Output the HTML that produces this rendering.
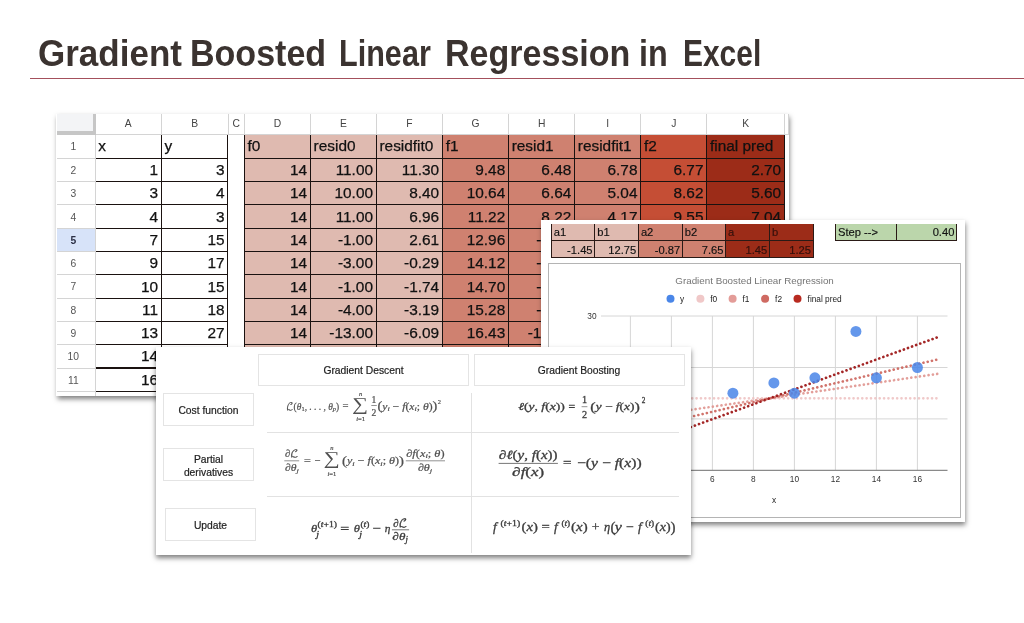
<!DOCTYPE html>
<html lang="en"><head><meta charset="utf-8"><title>Gradient Boosted Linear Regression in Excel</title>
<style>
html,body{margin:0;padding:0;background:#fff;}
body{width:1024px;height:623px;position:relative;overflow:hidden;font-family:"Liberation Sans",sans-serif;}
.abs{position:absolute;}
#title{position:absolute;left:0;top:32.4px;font-weight:bold;font-size:36.5px;line-height:44px;color:#3b3330;white-space:nowrap;width:1024px;height:44px;}
#title span{position:absolute;top:0;display:block;transform-origin:0 50%;}
#tline{position:absolute;left:30px;top:77.6px;width:994px;height:1.3px;background:#a4505c;}
#sheet{position:absolute;left:56.4px;top:113.7px;width:732.8px;height:282.1px;background:#fff;overflow:hidden;box-shadow:0.5px 3px 5px rgba(0,0,0,.5);}
#sheetin{position:absolute;left:-56.4px;top:-113.7px;width:1024px;height:623px;}
.c{position:absolute;box-sizing:border-box;font-size:15.4px;color:#111;white-space:nowrap;overflow:hidden;-webkit-text-stroke:0.25px #111;}
.c span{position:absolute;bottom:3.2px;}
.c .l{left:2.6px;bottom:3.5px;}
.c .r{right:3.9px;}
.ch{position:absolute;box-sizing:border-box;border-right:1px solid #d4d4d4;border-bottom:1px solid #d4d4d4;background:#fff;font-size:10.3px;color:#444;text-align:center;}
.rh{position:absolute;box-sizing:border-box;padding-right:4.5px;border-right:1px solid #d4d4d4;border-bottom:1px solid #d4d4d4;background:#fff;font-size:10.3px;color:#555;text-align:center;}
#chart{position:absolute;left:541px;top:220.2px;width:424.3px;height:302.1px;background:#fff;box-shadow:0.5px 3px 5px rgba(0,0,0,.5);overflow:hidden;}
#chartin{position:absolute;left:-541px;top:-220.2px;width:1024px;height:623px;}
.s{position:absolute;box-sizing:border-box;border-right:1px solid #2a1a16;border-bottom:1px solid #2a1a16;font-size:11.2px;color:#111;white-space:nowrap;overflow:hidden;-webkit-text-stroke:0.15px #111;}
.s span{position:absolute;bottom:1.2px;}
.s .l{left:2.0px;}
.s .r{right:1.6px;}
#panel{position:absolute;left:155.5px;top:347.4px;width:535.5px;height:207.3px;background:#fff;box-shadow:0px 3px 5px rgba(0,0,0,.5);overflow:hidden;}
#panelin{position:absolute;left:-155.5px;top:-347.4px;width:1024px;height:623px;}
.bx{position:absolute;box-sizing:border-box;border:1px solid #e4e4e4;background:#fff;font-size:10.3px;color:#222;-webkit-text-stroke:0.2px #222;display:flex;align-items:center;justify-content:center;text-align:center;line-height:13.2px;padding-top:2.6px;}
.hl{position:absolute;height:1px;background:#e2e2e2;}
.vl{position:absolute;width:1px;background:#e2e2e2;}
svg text{white-space:pre;}
</style></head><body>
<div id="title"><span style="left:37.52px;transform:scaleX(0.9591);">Gradient</span> <span style="left:189.84px;transform:scaleX(0.9323);">Boosted</span> <span style="left:339.46px;transform:scaleX(0.8381);">Linear</span> <span style="left:444.84px;transform:scaleX(0.9325);">Regression</span> <span style="left:638.92px;transform:scaleX(0.8861);">in</span> <span style="left:682.70px;transform:scaleX(0.8201);">Excel</span></div>
<div id="tline"></div>

<div id="sheet"><div id="sheetin">
<div class="abs" style="left:56.5px;top:113.8px;width:39.1px;height:21.1px;background:#f3f4f6;box-sizing:border-box;border-right:3.7px solid #c6c6c6;border-bottom:4px solid #c6c6c6;"></div>
<div class="ch" style="left:95.6px;top:113.8px;width:66.4px;height:21.1px;line-height:19.6px;">A</div>
<div class="ch" style="left:162.0px;top:113.8px;width:66.5px;height:21.1px;line-height:19.6px;">B</div>
<div class="ch" style="left:228.5px;top:113.8px;width:16.5px;height:21.1px;line-height:19.6px;">C</div>
<div class="ch" style="left:245.0px;top:113.8px;width:66.0px;height:21.1px;line-height:19.6px;">D</div>
<div class="ch" style="left:311.0px;top:113.8px;width:65.9px;height:21.1px;line-height:19.6px;">E</div>
<div class="ch" style="left:376.9px;top:113.8px;width:66.2px;height:21.1px;line-height:19.6px;">F</div>
<div class="ch" style="left:443.1px;top:113.8px;width:66.0px;height:21.1px;line-height:19.6px;">G</div>
<div class="ch" style="left:509.1px;top:113.8px;width:66.1px;height:21.1px;line-height:19.6px;">H</div>
<div class="ch" style="left:575.2px;top:113.8px;width:66.2px;height:21.1px;line-height:19.6px;">I</div>
<div class="ch" style="left:641.4px;top:113.8px;width:66.0px;height:21.1px;line-height:19.6px;">J</div>
<div class="ch" style="left:707.4px;top:113.8px;width:77.6px;height:21.1px;line-height:19.6px;">K</div>
<div class="ch" style="left:785.0px;top:113.8px;width:4.2px;height:21.1px;"></div>
<div class="rh" style="left:56.5px;top:134.90px;width:39.1px;height:24.00px;line-height:24.5px;">1</div>
<div class="rh" style="left:56.5px;top:158.90px;width:39.1px;height:23.30px;line-height:23.8px;">2</div>
<div class="rh" style="left:56.5px;top:182.20px;width:39.1px;height:23.30px;line-height:23.8px;">3</div>
<div class="rh" style="left:56.5px;top:205.50px;width:39.1px;height:23.30px;line-height:23.8px;">4</div>
<div class="rh" style="left:56.5px;top:228.80px;width:39.1px;height:23.30px;line-height:23.8px;background:#d7e3f9;font-weight:bold;color:#2b3046;">5</div>
<div class="rh" style="left:56.5px;top:252.10px;width:39.1px;height:23.30px;line-height:23.8px;">6</div>
<div class="rh" style="left:56.5px;top:275.40px;width:39.1px;height:23.30px;line-height:23.8px;">7</div>
<div class="rh" style="left:56.5px;top:298.70px;width:39.1px;height:23.30px;line-height:23.8px;">8</div>
<div class="rh" style="left:56.5px;top:322.00px;width:39.1px;height:23.30px;line-height:23.8px;">9</div>
<div class="rh" style="left:56.5px;top:345.30px;width:39.1px;height:23.30px;line-height:23.8px;">10</div>
<div class="rh" style="left:56.5px;top:368.60px;width:39.1px;height:23.30px;line-height:23.8px;">11</div>
<div class="rh" style="left:56.5px;top:391.90px;width:39.1px;height:23.30px;line-height:23.8px;">12</div>
<div class="abs" style="left:244.5px;top:134.9px;width:66.5px;height:257.0px;background:#dfbab0;"></div>
<div class="abs" style="left:310.5px;top:134.9px;width:66.4px;height:257.0px;background:#dfbab0;"></div>
<div class="abs" style="left:376.4px;top:134.9px;width:66.7px;height:257.0px;background:#dfbab0;"></div>
<div class="abs" style="left:442.6px;top:134.9px;width:66.5px;height:257.0px;background:#cf8170;"></div>
<div class="abs" style="left:508.6px;top:134.9px;width:66.6px;height:257.0px;background:#cf8170;"></div>
<div class="abs" style="left:574.7px;top:134.9px;width:66.7px;height:257.0px;background:#cf8170;"></div>
<div class="abs" style="left:640.9px;top:134.9px;width:66.5px;height:257.0px;background:#c54e35;"></div>
<div class="abs" style="left:706.9px;top:134.9px;width:78.1px;height:257.0px;background:#9c2c18;"></div>
<div class="c" style="left:95.6px;top:134.90px;width:66.4px;height:24.00px;"><span class="l">x</span></div>
<div class="c" style="left:162.0px;top:134.90px;width:66.5px;height:24.00px;"><span class="l">y</span></div>
<div class="c" style="left:245.0px;top:134.90px;width:66.0px;height:24.00px;"><span class="l">f0</span></div>
<div class="c" style="left:311.0px;top:134.90px;width:65.9px;height:24.00px;"><span class="l">resid0</span></div>
<div class="c" style="left:376.9px;top:134.90px;width:66.2px;height:24.00px;"><span class="l">residfit0</span></div>
<div class="c" style="left:443.1px;top:134.90px;width:66.0px;height:24.00px;"><span class="l">f1</span></div>
<div class="c" style="left:509.1px;top:134.90px;width:66.1px;height:24.00px;"><span class="l">resid1</span></div>
<div class="c" style="left:575.2px;top:134.90px;width:66.2px;height:24.00px;"><span class="l">residfit1</span></div>
<div class="c" style="left:641.4px;top:134.90px;width:66.0px;height:24.00px;"><span class="l">f2</span></div>
<div class="c" style="left:707.4px;top:134.90px;width:77.6px;height:24.00px;"><span class="l">final pred</span></div>
<div class="c" style="left:95.6px;top:158.90px;width:66.4px;height:23.30px;"><span class="r">1</span></div>
<div class="c" style="left:162.0px;top:158.90px;width:66.5px;height:23.30px;"><span class="r">3</span></div>
<div class="c" style="left:245.0px;top:158.90px;width:66.0px;height:23.30px;"><span class="r">14</span></div>
<div class="c" style="left:311.0px;top:158.90px;width:65.9px;height:23.30px;"><span class="r">11.00</span></div>
<div class="c" style="left:376.9px;top:158.90px;width:66.2px;height:23.30px;"><span class="r">11.30</span></div>
<div class="c" style="left:443.1px;top:158.90px;width:66.0px;height:23.30px;"><span class="r">9.48</span></div>
<div class="c" style="left:509.1px;top:158.90px;width:66.1px;height:23.30px;"><span class="r">6.48</span></div>
<div class="c" style="left:575.2px;top:158.90px;width:66.2px;height:23.30px;"><span class="r">6.78</span></div>
<div class="c" style="left:641.4px;top:158.90px;width:66.0px;height:23.30px;"><span class="r">6.77</span></div>
<div class="c" style="left:707.4px;top:158.90px;width:77.6px;height:23.30px;"><span class="r">2.70</span></div>
<div class="c" style="left:95.6px;top:182.20px;width:66.4px;height:23.30px;"><span class="r">3</span></div>
<div class="c" style="left:162.0px;top:182.20px;width:66.5px;height:23.30px;"><span class="r">4</span></div>
<div class="c" style="left:245.0px;top:182.20px;width:66.0px;height:23.30px;"><span class="r">14</span></div>
<div class="c" style="left:311.0px;top:182.20px;width:65.9px;height:23.30px;"><span class="r">10.00</span></div>
<div class="c" style="left:376.9px;top:182.20px;width:66.2px;height:23.30px;"><span class="r">8.40</span></div>
<div class="c" style="left:443.1px;top:182.20px;width:66.0px;height:23.30px;"><span class="r">10.64</span></div>
<div class="c" style="left:509.1px;top:182.20px;width:66.1px;height:23.30px;"><span class="r">6.64</span></div>
<div class="c" style="left:575.2px;top:182.20px;width:66.2px;height:23.30px;"><span class="r">5.04</span></div>
<div class="c" style="left:641.4px;top:182.20px;width:66.0px;height:23.30px;"><span class="r">8.62</span></div>
<div class="c" style="left:707.4px;top:182.20px;width:77.6px;height:23.30px;"><span class="r">5.60</span></div>
<div class="c" style="left:95.6px;top:205.50px;width:66.4px;height:23.30px;"><span class="r">4</span></div>
<div class="c" style="left:162.0px;top:205.50px;width:66.5px;height:23.30px;"><span class="r">3</span></div>
<div class="c" style="left:245.0px;top:205.50px;width:66.0px;height:23.30px;"><span class="r">14</span></div>
<div class="c" style="left:311.0px;top:205.50px;width:65.9px;height:23.30px;"><span class="r">11.00</span></div>
<div class="c" style="left:376.9px;top:205.50px;width:66.2px;height:23.30px;"><span class="r">6.96</span></div>
<div class="c" style="left:443.1px;top:205.50px;width:66.0px;height:23.30px;"><span class="r">11.22</span></div>
<div class="c" style="left:509.1px;top:205.50px;width:66.1px;height:23.30px;"><span class="r">8.22</span></div>
<div class="c" style="left:575.2px;top:205.50px;width:66.2px;height:23.30px;"><span class="r">4.17</span></div>
<div class="c" style="left:641.4px;top:205.50px;width:66.0px;height:23.30px;"><span class="r">9.55</span></div>
<div class="c" style="left:707.4px;top:205.50px;width:77.6px;height:23.30px;"><span class="r">7.04</span></div>
<div class="c" style="left:95.6px;top:228.80px;width:66.4px;height:23.30px;"><span class="r">7</span></div>
<div class="c" style="left:162.0px;top:228.80px;width:66.5px;height:23.30px;"><span class="r">15</span></div>
<div class="c" style="left:245.0px;top:228.80px;width:66.0px;height:23.30px;"><span class="r">14</span></div>
<div class="c" style="left:311.0px;top:228.80px;width:65.9px;height:23.30px;"><span class="r">-1.00</span></div>
<div class="c" style="left:376.9px;top:228.80px;width:66.2px;height:23.30px;"><span class="r">2.61</span></div>
<div class="c" style="left:443.1px;top:228.80px;width:66.0px;height:23.30px;"><span class="r">12.96</span></div>
<div class="c" style="left:509.1px;top:228.80px;width:66.1px;height:23.30px;"><span class="r">-2.04</span></div>
<div class="c" style="left:575.2px;top:228.80px;width:66.2px;height:23.30px;"><span class="r">1.56</span></div>
<div class="c" style="left:641.4px;top:228.80px;width:66.0px;height:23.30px;"><span class="r">12.34</span></div>
<div class="c" style="left:707.4px;top:228.80px;width:77.6px;height:23.30px;"><span class="r">11.40</span></div>
<div class="c" style="left:95.6px;top:252.10px;width:66.4px;height:23.30px;"><span class="r">9</span></div>
<div class="c" style="left:162.0px;top:252.10px;width:66.5px;height:23.30px;"><span class="r">17</span></div>
<div class="c" style="left:245.0px;top:252.10px;width:66.0px;height:23.30px;"><span class="r">14</span></div>
<div class="c" style="left:311.0px;top:252.10px;width:65.9px;height:23.30px;"><span class="r">-3.00</span></div>
<div class="c" style="left:376.9px;top:252.10px;width:66.2px;height:23.30px;"><span class="r">-0.29</span></div>
<div class="c" style="left:443.1px;top:252.10px;width:66.0px;height:23.30px;"><span class="r">14.12</span></div>
<div class="c" style="left:509.1px;top:252.10px;width:66.1px;height:23.30px;"><span class="r">-2.88</span></div>
<div class="c" style="left:575.2px;top:252.10px;width:66.2px;height:23.30px;"><span class="r">-0.18</span></div>
<div class="c" style="left:641.4px;top:252.10px;width:66.0px;height:23.30px;"><span class="r">14.19</span></div>
<div class="c" style="left:707.4px;top:252.10px;width:77.6px;height:23.30px;"><span class="r">14.30</span></div>
<div class="c" style="left:95.6px;top:275.40px;width:66.4px;height:23.30px;"><span class="r">10</span></div>
<div class="c" style="left:162.0px;top:275.40px;width:66.5px;height:23.30px;"><span class="r">15</span></div>
<div class="c" style="left:245.0px;top:275.40px;width:66.0px;height:23.30px;"><span class="r">14</span></div>
<div class="c" style="left:311.0px;top:275.40px;width:65.9px;height:23.30px;"><span class="r">-1.00</span></div>
<div class="c" style="left:376.9px;top:275.40px;width:66.2px;height:23.30px;"><span class="r">-1.74</span></div>
<div class="c" style="left:443.1px;top:275.40px;width:66.0px;height:23.30px;"><span class="r">14.70</span></div>
<div class="c" style="left:509.1px;top:275.40px;width:66.1px;height:23.30px;"><span class="r">-0.30</span></div>
<div class="c" style="left:575.2px;top:275.40px;width:66.2px;height:23.30px;"><span class="r">-1.05</span></div>
<div class="c" style="left:641.4px;top:275.40px;width:66.0px;height:23.30px;"><span class="r">15.12</span></div>
<div class="c" style="left:707.4px;top:275.40px;width:77.6px;height:23.30px;"><span class="r">15.75</span></div>
<div class="c" style="left:95.6px;top:298.70px;width:66.4px;height:23.30px;"><span class="r">11</span></div>
<div class="c" style="left:162.0px;top:298.70px;width:66.5px;height:23.30px;"><span class="r">18</span></div>
<div class="c" style="left:245.0px;top:298.70px;width:66.0px;height:23.30px;"><span class="r">14</span></div>
<div class="c" style="left:311.0px;top:298.70px;width:65.9px;height:23.30px;"><span class="r">-4.00</span></div>
<div class="c" style="left:376.9px;top:298.70px;width:66.2px;height:23.30px;"><span class="r">-3.19</span></div>
<div class="c" style="left:443.1px;top:298.70px;width:66.0px;height:23.30px;"><span class="r">15.28</span></div>
<div class="c" style="left:509.1px;top:298.70px;width:66.1px;height:23.30px;"><span class="r">-2.72</span></div>
<div class="c" style="left:575.2px;top:298.70px;width:66.2px;height:23.30px;"><span class="r">-1.92</span></div>
<div class="c" style="left:641.4px;top:298.70px;width:66.0px;height:23.30px;"><span class="r">16.05</span></div>
<div class="c" style="left:707.4px;top:298.70px;width:77.6px;height:23.30px;"><span class="r">17.20</span></div>
<div class="c" style="left:95.6px;top:322.00px;width:66.4px;height:23.30px;"><span class="r">13</span></div>
<div class="c" style="left:162.0px;top:322.00px;width:66.5px;height:23.30px;"><span class="r">27</span></div>
<div class="c" style="left:245.0px;top:322.00px;width:66.0px;height:23.30px;"><span class="r">14</span></div>
<div class="c" style="left:311.0px;top:322.00px;width:65.9px;height:23.30px;"><span class="r">-13.00</span></div>
<div class="c" style="left:376.9px;top:322.00px;width:66.2px;height:23.30px;"><span class="r">-6.09</span></div>
<div class="c" style="left:443.1px;top:322.00px;width:66.0px;height:23.30px;"><span class="r">16.43</span></div>
<div class="c" style="left:509.1px;top:322.00px;width:66.1px;height:23.30px;"><span class="r">-10.56</span></div>
<div class="c" style="left:575.2px;top:322.00px;width:66.2px;height:23.30px;"><span class="r">-3.66</span></div>
<div class="c" style="left:641.4px;top:322.00px;width:66.0px;height:23.30px;"><span class="r">17.90</span></div>
<div class="c" style="left:707.4px;top:322.00px;width:77.6px;height:23.30px;"><span class="r">20.10</span></div>
<div class="c" style="left:95.6px;top:345.30px;width:66.4px;height:23.30px;"><span class="r">14</span></div>
<div class="c" style="left:162.0px;top:345.30px;width:66.5px;height:23.30px;"><span class="r">18</span></div>
<div class="c" style="left:245.0px;top:345.30px;width:66.0px;height:23.30px;"><span class="r">14</span></div>
<div class="c" style="left:311.0px;top:345.30px;width:65.9px;height:23.30px;"><span class="r">-4.00</span></div>
<div class="c" style="left:376.9px;top:345.30px;width:66.2px;height:23.30px;"><span class="r">-7.55</span></div>
<div class="c" style="left:443.1px;top:345.30px;width:66.0px;height:23.30px;"><span class="r">17.02</span></div>
<div class="c" style="left:509.1px;top:345.30px;width:66.1px;height:23.30px;"><span class="r">-0.98</span></div>
<div class="c" style="left:575.2px;top:345.30px;width:66.2px;height:23.30px;"><span class="r">-4.53</span></div>
<div class="c" style="left:641.4px;top:345.30px;width:66.0px;height:23.30px;"><span class="r">18.83</span></div>
<div class="c" style="left:707.4px;top:345.30px;width:77.6px;height:23.30px;"><span class="r">21.55</span></div>
<div class="c" style="left:95.6px;top:368.60px;width:66.4px;height:23.30px;"><span class="r">16</span></div>
<div class="c" style="left:162.0px;top:368.60px;width:66.5px;height:23.30px;"><span class="r">20</span></div>
<div class="c" style="left:245.0px;top:368.60px;width:66.0px;height:23.30px;"><span class="r">14</span></div>
<div class="c" style="left:311.0px;top:368.60px;width:65.9px;height:23.30px;"><span class="r">-6.00</span></div>
<div class="c" style="left:376.9px;top:368.60px;width:66.2px;height:23.30px;"><span class="r">-10.45</span></div>
<div class="c" style="left:443.1px;top:368.60px;width:66.0px;height:23.30px;"><span class="r">18.18</span></div>
<div class="c" style="left:509.1px;top:368.60px;width:66.1px;height:23.30px;"><span class="r">-1.82</span></div>
<div class="c" style="left:575.2px;top:368.60px;width:66.2px;height:23.30px;"><span class="r">-6.27</span></div>
<div class="c" style="left:641.4px;top:368.60px;width:66.0px;height:23.30px;"><span class="r">20.69</span></div>
<div class="c" style="left:707.4px;top:368.60px;width:77.6px;height:23.30px;"><span class="r">24.45</span></div>
<div class="abs" style="left:160.8px;top:134.9px;width:1.2px;height:257.0px;background:#1a1210;"></div>
<div class="abs" style="left:227.3px;top:134.9px;width:1.2px;height:257.0px;background:#1a1210;"></div>
<div class="abs" style="left:243.8px;top:134.9px;width:1.2px;height:257.0px;background:#1a1210;"></div>
<div class="abs" style="left:309.8px;top:134.9px;width:1.2px;height:257.0px;background:#1a1210;"></div>
<div class="abs" style="left:375.7px;top:134.9px;width:1.2px;height:257.0px;background:#1a1210;"></div>
<div class="abs" style="left:441.9px;top:134.9px;width:1.2px;height:257.0px;background:#1a1210;"></div>
<div class="abs" style="left:507.9px;top:134.9px;width:1.2px;height:257.0px;background:#1a1210;"></div>
<div class="abs" style="left:574.0px;top:134.9px;width:1.2px;height:257.0px;background:#1a1210;"></div>
<div class="abs" style="left:640.2px;top:134.9px;width:1.2px;height:257.0px;background:#1a1210;"></div>
<div class="abs" style="left:706.2px;top:134.9px;width:1.2px;height:257.0px;background:#1a1210;"></div>
<div class="abs" style="left:783.8px;top:134.9px;width:1.2px;height:257.0px;background:#1a1210;"></div>
<div class="abs" style="left:95.6px;top:157.70px;width:132.9px;height:1.2px;background:#1a1210;"></div>
<div class="abs" style="left:243.8px;top:157.70px;width:541.2px;height:1.2px;background:#1a1210;"></div>
<div class="abs" style="left:95.6px;top:181.00px;width:132.9px;height:1.2px;background:#1a1210;"></div>
<div class="abs" style="left:243.8px;top:181.00px;width:541.2px;height:1.2px;background:#1a1210;"></div>
<div class="abs" style="left:95.6px;top:204.30px;width:132.9px;height:1.2px;background:#1a1210;"></div>
<div class="abs" style="left:243.8px;top:204.30px;width:541.2px;height:1.2px;background:#1a1210;"></div>
<div class="abs" style="left:95.6px;top:227.60px;width:132.9px;height:1.2px;background:#1a1210;"></div>
<div class="abs" style="left:243.8px;top:227.60px;width:541.2px;height:1.2px;background:#1a1210;"></div>
<div class="abs" style="left:95.6px;top:250.90px;width:132.9px;height:1.2px;background:#1a1210;"></div>
<div class="abs" style="left:243.8px;top:250.90px;width:541.2px;height:1.2px;background:#1a1210;"></div>
<div class="abs" style="left:95.6px;top:274.20px;width:132.9px;height:1.2px;background:#1a1210;"></div>
<div class="abs" style="left:243.8px;top:274.20px;width:541.2px;height:1.2px;background:#1a1210;"></div>
<div class="abs" style="left:95.6px;top:297.50px;width:132.9px;height:1.2px;background:#1a1210;"></div>
<div class="abs" style="left:243.8px;top:297.50px;width:541.2px;height:1.2px;background:#1a1210;"></div>
<div class="abs" style="left:95.6px;top:320.80px;width:132.9px;height:1.2px;background:#1a1210;"></div>
<div class="abs" style="left:243.8px;top:320.80px;width:541.2px;height:1.2px;background:#1a1210;"></div>
<div class="abs" style="left:95.6px;top:344.10px;width:132.9px;height:1.2px;background:#1a1210;"></div>
<div class="abs" style="left:243.8px;top:344.10px;width:541.2px;height:1.2px;background:#1a1210;"></div>
<div class="abs" style="left:95.6px;top:367.40px;width:132.9px;height:1.2px;background:#1a1210;"></div>
<div class="abs" style="left:243.8px;top:367.40px;width:541.2px;height:1.2px;background:#1a1210;"></div>
<div class="abs" style="left:95.6px;top:390.70px;width:132.9px;height:1.2px;background:#1a1210;"></div>
<div class="abs" style="left:243.8px;top:390.70px;width:541.2px;height:1.2px;background:#1a1210;"></div>
</div></div>
<div id="chart"><div id="chartin">
<div class="abs" style="left:551.2px;top:223.6px;width:44.0px;height:34.2px;background:#dfbab0;"></div>
<div class="abs" style="left:594.7px;top:223.6px;width:44.2px;height:34.2px;background:#dfbab0;"></div>
<div class="abs" style="left:638.4px;top:223.6px;width:44.4px;height:34.2px;background:#cf8170;"></div>
<div class="abs" style="left:682.3px;top:223.6px;width:43.8px;height:34.2px;background:#cf8170;"></div>
<div class="abs" style="left:725.6px;top:223.6px;width:44.3px;height:34.2px;background:#9c2c18;"></div>
<div class="abs" style="left:769.4px;top:223.6px;width:44.2px;height:34.2px;background:#9c2c18;"></div>
<div class="s" style="left:551.7px;top:223.6px;width:43.5px;height:17.0px;"><span class="l">a1</span></div>
<div class="s" style="left:551.7px;top:240.6px;width:43.5px;height:17.2px;"><span class="r">-1.45</span></div>
<div class="s" style="left:595.2px;top:223.6px;width:43.7px;height:17.0px;"><span class="l">b1</span></div>
<div class="s" style="left:595.2px;top:240.6px;width:43.7px;height:17.2px;"><span class="r">12.75</span></div>
<div class="s" style="left:638.9px;top:223.6px;width:43.9px;height:17.0px;"><span class="l">a2</span></div>
<div class="s" style="left:638.9px;top:240.6px;width:43.9px;height:17.2px;"><span class="r">-0.87</span></div>
<div class="s" style="left:682.8px;top:223.6px;width:43.3px;height:17.0px;"><span class="l">b2</span></div>
<div class="s" style="left:682.8px;top:240.6px;width:43.3px;height:17.2px;"><span class="r">7.65</span></div>
<div class="s" style="left:726.1px;top:223.6px;width:43.8px;height:17.0px;color:#3d0f0a;"><span class="l">a</span></div>
<div class="s" style="left:726.1px;top:240.6px;width:43.8px;height:17.2px;color:#3d0f0a;"><span class="r">1.45</span></div>
<div class="s" style="left:769.9px;top:223.6px;width:43.7px;height:17.0px;color:#3d0f0a;"><span class="l">b</span></div>
<div class="s" style="left:769.9px;top:240.6px;width:43.7px;height:17.2px;color:#3d0f0a;"><span class="r">1.25</span></div>
<div class="abs" style="left:550.7px;top:223.6px;width:1px;height:34.2px;background:#2a1a16;"></div>
<div class="s" style="left:835px;top:223.6px;width:62px;height:17.0px;background:#bbd6ab;border-left:1px solid #2a1a16;"><span class="l">Step --&gt;</span></div>
<div class="s" style="left:897px;top:223.6px;width:60px;height:17.0px;background:#bbd6ab;"><span class="r">0.40</span></div>
<svg class="abs" style="left:0;top:0;" width="1024" height="623" viewBox="0 0 1024 623" font-family="Liberation Sans, sans-serif">
<rect x="548.5" y="263.5" width="412" height="254" fill="#fff" stroke="#b4b4b4" stroke-width="1"/>
<line x1="601" x2="947.5" y1="316.0" y2="316.0" stroke="#d6d6d6" stroke-width="1"/>
<line x1="601" x2="947.5" y1="367.5" y2="367.5" stroke="#d6d6d6" stroke-width="1"/>
<line x1="601" x2="947.5" y1="418.9" y2="418.9" stroke="#d6d6d6" stroke-width="1"/>
<line x1="630.4" x2="630.4" y1="316" y2="470.4" stroke="#d6d6d6" stroke-width="1"/>
<line x1="671.4" x2="671.4" y1="316" y2="470.4" stroke="#d6d6d6" stroke-width="1"/>
<line x1="712.4" x2="712.4" y1="316" y2="470.4" stroke="#d6d6d6" stroke-width="1"/>
<line x1="753.4" x2="753.4" y1="316" y2="470.4" stroke="#d6d6d6" stroke-width="1"/>
<line x1="794.4" x2="794.4" y1="316" y2="470.4" stroke="#d6d6d6" stroke-width="1"/>
<line x1="835.4" x2="835.4" y1="316" y2="470.4" stroke="#d6d6d6" stroke-width="1"/>
<line x1="876.4" x2="876.4" y1="316" y2="470.4" stroke="#d6d6d6" stroke-width="1"/>
<line x1="917.4" x2="917.4" y1="316" y2="470.4" stroke="#d6d6d6" stroke-width="1"/>
<line x1="601" x2="947.5" y1="470.4" y2="470.4" stroke="#8a8a8a" stroke-width="1.3"/>
<text x="754.6" y="283.8" font-size="9.8" fill="#757575" text-anchor="middle">Gradient Boosted Linear Regression</text>
<circle cx="670.5" cy="298.8" r="4" fill="#4a86e8"/>
<text x="680.0" y="301.8" font-size="8.3" fill="#222">y</text>
<circle cx="700.4" cy="298.8" r="4" fill="#f0c8c8"/>
<text x="710.2" y="301.8" font-size="8.3" fill="#222">f0</text>
<circle cx="732.6" cy="298.8" r="4" fill="#e39c98"/>
<text x="742.4" y="301.8" font-size="8.3" fill="#222">f1</text>
<circle cx="765.1" cy="298.8" r="4" fill="#cf6a62"/>
<text x="775.1" y="301.8" font-size="8.3" fill="#222">f2</text>
<circle cx="797.5" cy="298.8" r="4" fill="#b82a20"/>
<text x="807.6" y="301.8" font-size="8.3" fill="#222">final pred</text>
<text x="596.5" y="318.8" font-size="8.3" fill="#333" text-anchor="end">30</text>
<text x="596.5" y="370.3" font-size="8.3" fill="#333" text-anchor="end">20</text>
<text x="596.5" y="421.7" font-size="8.3" fill="#333" text-anchor="end">10</text>
<text x="596.5" y="473.2" font-size="8.3" fill="#333" text-anchor="end">0</text>
<text x="589.4" y="481.8" font-size="8.3" fill="#333" text-anchor="middle">0</text>
<text x="630.4" y="481.8" font-size="8.3" fill="#333" text-anchor="middle">2</text>
<text x="671.4" y="481.8" font-size="8.3" fill="#333" text-anchor="middle">4</text>
<text x="712.4" y="481.8" font-size="8.3" fill="#333" text-anchor="middle">6</text>
<text x="753.4" y="481.8" font-size="8.3" fill="#333" text-anchor="middle">8</text>
<text x="794.4" y="481.8" font-size="8.3" fill="#333" text-anchor="middle">10</text>
<text x="835.4" y="481.8" font-size="8.3" fill="#333" text-anchor="middle">12</text>
<text x="876.4" y="481.8" font-size="8.3" fill="#333" text-anchor="middle">14</text>
<text x="917.4" y="481.8" font-size="8.3" fill="#333" text-anchor="middle">16</text>
<text x="774.2" y="503.2" font-size="8.3" fill="#222" text-anchor="middle">x</text>
<line x1="600.67" y1="398.34" x2="940.36" y2="398.34" stroke="#efc4c4" stroke-width="2.7" stroke-linecap="round" stroke-dasharray="0.01 4.35" opacity="0.90"/>
<line x1="600.67" y1="422.95" x2="940.36" y2="373.48" stroke="#e09590" stroke-width="2.7" stroke-linecap="round" stroke-dasharray="0.01 4.35" opacity="0.90"/>
<line x1="600.67" y1="437.70" x2="940.36" y2="358.81" stroke="#cc645c" stroke-width="2.7" stroke-linecap="round" stroke-dasharray="0.01 4.35" opacity="0.90"/>
<line x1="600.67" y1="459.86" x2="940.36" y2="336.20" stroke="#9c1414" stroke-width="2.7" stroke-linecap="round" stroke-dasharray="0.01 4.35" opacity="0.92"/>
<circle cx="609.9" cy="455.0" r="5.5" fill="#4a86e8" fill-opacity="0.86"/>
<circle cx="650.9" cy="449.8" r="5.5" fill="#4a86e8" fill-opacity="0.86"/>
<circle cx="671.4" cy="455.0" r="5.5" fill="#4a86e8" fill-opacity="0.86"/>
<circle cx="732.9" cy="393.2" r="5.5" fill="#4a86e8" fill-opacity="0.86"/>
<circle cx="773.9" cy="382.9" r="5.5" fill="#4a86e8" fill-opacity="0.86"/>
<circle cx="794.4" cy="393.2" r="5.5" fill="#4a86e8" fill-opacity="0.86"/>
<circle cx="814.9" cy="377.8" r="5.5" fill="#4a86e8" fill-opacity="0.86"/>
<circle cx="855.9" cy="331.4" r="5.5" fill="#4a86e8" fill-opacity="0.86"/>
<circle cx="876.4" cy="377.8" r="5.5" fill="#4a86e8" fill-opacity="0.86"/>
<circle cx="917.4" cy="367.5" r="5.5" fill="#4a86e8" fill-opacity="0.86"/>
</svg>
</div></div>
<div id="panel"><div id="panelin">
<div class="bx" style="left:258px;top:353.5px;width:211px;height:32.5px;">Gradient Descent</div>
<div class="bx" style="left:473.5px;top:353.5px;width:211px;height:32.5px;">Gradient Boosting</div>
<div class="bx" style="left:163px;top:392.5px;width:91px;height:33px;">Cost function</div>
<div class="bx" style="left:163px;top:448.3px;width:91px;height:32.5px;">Partial<br>derivatives</div>
<div class="bx" style="left:165px;top:508.4px;width:91px;height:32.5px;">Update</div>
<div class="hl" style="left:266.5px;top:432px;width:412.5px;"></div>
<div class="hl" style="left:266.5px;top:496.2px;width:412.5px;"></div>
<div class="vl" style="left:471px;top:393px;height:160px;"></div>
<svg class="abs" style="left:0;top:0;" width="1024" height="623" viewBox="0 0 1024 623" font-family="'Liberation Serif','DejaVu Math TeX Gyre','DejaVu Sans',serif">
<text x="286.30" y="409.60" font-size="10.5" fill="#505050" stroke="#505050" stroke-width="0.22" textLength="7.30" lengthAdjust="spacingAndGlyphs">ℒ</text>
<text x="293.60" y="409.60" font-size="10.2" fill="#505050" stroke="#505050" stroke-width="0.22" textLength="45.60" lengthAdjust="spacingAndGlyphs">(<tspan font-style="italic">θ</tspan><tspan font-size="7" dy="1.8">1</tspan><tspan dy="-1.8" font-size="0.1"> </tspan>, . . . , <tspan font-style="italic">θ</tspan><tspan font-size="7" dy="1.8" font-style="italic">p</tspan><tspan dy="-1.8" font-size="0.1"> </tspan>)</text>
<text x="342.60" y="409.00" font-size="10.2" fill="#505050" stroke="#505050" stroke-width="0.22" textLength="6.00" lengthAdjust="spacingAndGlyphs">=</text>
<text transform="translate(352.02 409.86) scale(1.1167 0.9036)" x="0" y="0" font-size="20" fill="#505050">∑</text>
<text x="360.60" y="396.20" font-size="6.5" fill="#505050" stroke="#505050" stroke-width="0.22" text-anchor="middle"><tspan font-style="italic">n</tspan></text>
<text x="360.60" y="420.60" font-size="6.5" fill="#505050" stroke="#505050" stroke-width="0.22" text-anchor="middle"><tspan font-style="italic">i</tspan>=1</text>
<text x="374.00" y="402.80" font-size="9.6" fill="#505050" stroke="#505050" stroke-width="0.22" text-anchor="middle">1</text>
<line x1="371.30" x2="376.80" y1="405.50" y2="405.50" stroke="#777" stroke-width="0.8"/>
<text x="374.00" y="415.50" font-size="9.6" fill="#505050" stroke="#505050" stroke-width="0.22" text-anchor="middle">2</text>
<text x="377.60" y="409.60" font-size="10.2" fill="#505050" stroke="#505050" stroke-width="0.22" textLength="59.70" lengthAdjust="spacingAndGlyphs"><tspan font-size="12.5" dy="0.8">(</tspan><tspan dy="-0.8"><tspan font-style="italic">y</tspan></tspan><tspan font-size="7" dy="1.8" font-style="italic">i</tspan><tspan dy="-1.8" font-size="0.1"> </tspan> − <tspan font-style="italic">f</tspan>(<tspan font-style="italic">x</tspan><tspan font-size="7" dy="1.8" font-style="italic">i</tspan><tspan dy="-1.8" font-size="0.1"> </tspan>; <tspan font-style="italic">θ</tspan>)<tspan font-size="12.5" dy="0.8">)</tspan></text>
<text x="437.80" y="404.20" font-size="7" fill="#505050" stroke="#505050" stroke-width="0.22" textLength="3.20" lengthAdjust="spacingAndGlyphs">2</text>
<text x="285.00" y="456.60" font-size="10.2" fill="#505050" stroke="#505050" stroke-width="0.22" textLength="13.50" lengthAdjust="spacingAndGlyphs"><tspan font-style="italic">∂</tspan>ℒ</text>
<line x1="284.30" x2="299.20" y1="460.80" y2="460.80" stroke="#777" stroke-width="0.8"/>
<text x="285.00" y="470.70" font-size="10.2" fill="#505050" stroke="#505050" stroke-width="0.22" textLength="13.80" lengthAdjust="spacingAndGlyphs"><tspan font-style="italic">∂θ</tspan><tspan font-size="7" dy="1.8" font-style="italic">j</tspan><tspan dy="-1.8" font-size="0.1"> </tspan></text>
<text x="304.00" y="463.60" font-size="10.2" fill="#505050" stroke="#505050" stroke-width="0.22" textLength="6.80" lengthAdjust="spacingAndGlyphs">=</text>
<text x="314.80" y="463.60" font-size="10.2" fill="#505050" stroke="#505050" stroke-width="0.22" textLength="6.00" lengthAdjust="spacingAndGlyphs">−</text>
<text transform="translate(323.51 464.36) scale(1.1333 0.9036)" x="0" y="0" font-size="20" fill="#505050">∑</text>
<text x="331.80" y="449.60" font-size="6.5" fill="#505050" stroke="#505050" stroke-width="0.22" text-anchor="middle"><tspan font-style="italic">n</tspan></text>
<text x="331.80" y="476.00" font-size="6.5" fill="#505050" stroke="#505050" stroke-width="0.22" text-anchor="middle"><tspan font-style="italic">i</tspan>=1</text>
<text x="342.00" y="464.30" font-size="10.2" fill="#505050" stroke="#505050" stroke-width="0.22" textLength="62.00" lengthAdjust="spacingAndGlyphs"><tspan font-size="12.5" dy="0.8">(</tspan><tspan dy="-0.8"><tspan font-style="italic">y</tspan></tspan><tspan font-size="7" dy="1.8" font-style="italic">i</tspan><tspan dy="-1.8" font-size="0.1"> </tspan> − <tspan font-style="italic">f</tspan>(<tspan font-style="italic">x</tspan><tspan font-size="7" dy="1.8" font-style="italic">i</tspan><tspan dy="-1.8" font-size="0.1"> </tspan>; <tspan font-style="italic">θ</tspan>)<tspan font-size="12.5" dy="0.8">)</tspan></text>
<text x="406.20" y="456.60" font-size="10.2" fill="#505050" stroke="#505050" stroke-width="0.22" textLength="38.40" lengthAdjust="spacingAndGlyphs"><tspan font-style="italic">∂f</tspan>(<tspan font-style="italic">x</tspan><tspan font-size="7" dy="1.8" font-style="italic">i</tspan><tspan dy="-1.8" font-size="0.1"> </tspan>; <tspan font-style="italic">θ</tspan>)</text>
<line x1="405.80" x2="445.00" y1="460.80" y2="460.80" stroke="#777" stroke-width="0.8"/>
<text x="417.90" y="470.70" font-size="10.2" fill="#505050" stroke="#505050" stroke-width="0.22" textLength="14.30" lengthAdjust="spacingAndGlyphs"><tspan font-style="italic">∂θ</tspan><tspan font-size="7" dy="1.8" font-style="italic">j</tspan><tspan dy="-1.8" font-size="0.1"> </tspan></text>
<text x="518.20" y="410.40" font-size="10.8" fill="#3c3c3c" stroke="#3c3c3c" stroke-width="0.3" textLength="46.70" lengthAdjust="spacingAndGlyphs"><tspan font-style="italic">ℓ</tspan>(<tspan font-style="italic">y</tspan>, <tspan font-style="italic">f</tspan>(<tspan font-style="italic">x</tspan>))</text>
<text x="568.50" y="409.80" font-size="10.8" fill="#3c3c3c" stroke="#3c3c3c" stroke-width="0.3" textLength="6.70" lengthAdjust="spacingAndGlyphs">=</text>
<text x="584.60" y="403.00" font-size="10.2" fill="#3c3c3c" stroke="#3c3c3c" stroke-width="0.3" text-anchor="middle">1</text>
<line x1="581.60" x2="587.40" y1="406.70" y2="406.70" stroke="#777" stroke-width="0.8"/>
<text x="584.60" y="418.20" font-size="10.2" fill="#3c3c3c" stroke="#3c3c3c" stroke-width="0.3" text-anchor="middle">2</text>
<text x="590.30" y="410.40" font-size="10.8" fill="#3c3c3c" stroke="#3c3c3c" stroke-width="0.3" textLength="49.50" lengthAdjust="spacingAndGlyphs"><tspan font-size="13" dy="0.8">(</tspan><tspan dy="-0.8"><tspan font-style="italic">y</tspan></tspan> − <tspan font-style="italic">f</tspan>(<tspan font-style="italic">x</tspan>)<tspan font-size="13" dy="0.8">)</tspan></text>
<text x="641.80" y="403.20" font-size="7.2" fill="#3c3c3c" stroke="#3c3c3c" stroke-width="0.3" textLength="3.60" lengthAdjust="spacingAndGlyphs">2</text>
<text x="499.00" y="458.60" font-size="12.4" fill="#3c3c3c" stroke="#3c3c3c" stroke-width="0.3" textLength="58.50" lengthAdjust="spacingAndGlyphs"><tspan font-style="italic">∂ℓ</tspan>(<tspan font-style="italic">y</tspan>, <tspan font-style="italic">f</tspan>(<tspan font-style="italic">x</tspan>))</text>
<line x1="498.60" x2="557.90" y1="463.40" y2="463.40" stroke="#666" stroke-width="0.9"/>
<text x="512.30" y="475.60" font-size="12.4" fill="#3c3c3c" stroke="#3c3c3c" stroke-width="0.3" textLength="31.90" lengthAdjust="spacingAndGlyphs"><tspan font-style="italic">∂f</tspan>(<tspan font-style="italic">x</tspan>)</text>
<text x="563.00" y="467.00" font-size="12.4" fill="#3c3c3c" stroke="#3c3c3c" stroke-width="0.3" textLength="8.50" lengthAdjust="spacingAndGlyphs">=</text>
<text x="577.00" y="467.40" font-size="12.4" fill="#3c3c3c" stroke="#3c3c3c" stroke-width="0.3" textLength="64.70" lengthAdjust="spacingAndGlyphs">−(<tspan font-style="italic">y</tspan> − <tspan font-style="italic">f</tspan>(<tspan font-style="italic">x</tspan>))</text>
<text x="311.00" y="532.10" font-size="11.4" fill="#3c3c3c" stroke="#3c3c3c" stroke-width="0.3" textLength="6.20" lengthAdjust="spacingAndGlyphs"><tspan font-style="italic">θ</tspan></text>
<text x="316.20" y="536.60" font-size="7.4" fill="#3c3c3c" stroke="#3c3c3c" stroke-width="0.3" textLength="2.80" lengthAdjust="spacingAndGlyphs"><tspan font-style="italic">j</tspan></text>
<text x="317.60" y="526.60" font-size="7.6" fill="#3c3c3c" stroke="#3c3c3c" stroke-width="0.3" textLength="19.40" lengthAdjust="spacingAndGlyphs">(<tspan font-style="italic">t</tspan>+1)</text>
<text x="340.30" y="532.40" font-size="11.4" fill="#3c3c3c" stroke="#3c3c3c" stroke-width="0.3" textLength="9.00" lengthAdjust="spacingAndGlyphs">=</text>
<text x="353.80" y="532.10" font-size="11.4" fill="#3c3c3c" stroke="#3c3c3c" stroke-width="0.3" textLength="6.20" lengthAdjust="spacingAndGlyphs"><tspan font-style="italic">θ</tspan></text>
<text x="359.20" y="536.60" font-size="7.4" fill="#3c3c3c" stroke="#3c3c3c" stroke-width="0.3" textLength="2.80" lengthAdjust="spacingAndGlyphs"><tspan font-style="italic">j</tspan></text>
<text x="360.40" y="526.60" font-size="7.6" fill="#3c3c3c" stroke="#3c3c3c" stroke-width="0.3" textLength="9.00" lengthAdjust="spacingAndGlyphs">(<tspan font-style="italic">t</tspan>)</text>
<text x="372.60" y="532.40" font-size="11.4" fill="#3c3c3c" stroke="#3c3c3c" stroke-width="0.3" textLength="8.40" lengthAdjust="spacingAndGlyphs">−</text>
<text x="384.80" y="532.10" font-size="11.4" fill="#3c3c3c" stroke="#3c3c3c" stroke-width="0.3" textLength="5.70" lengthAdjust="spacingAndGlyphs"><tspan font-style="italic">η</tspan></text>
<text x="393.20" y="527.20" font-size="11.2" fill="#3c3c3c" stroke="#3c3c3c" stroke-width="0.3" textLength="14.20" lengthAdjust="spacingAndGlyphs"><tspan font-style="italic">∂</tspan>ℒ</text>
<line x1="391.90" x2="409.10" y1="529.80" y2="529.80" stroke="#666" stroke-width="0.9"/>
<text x="392.60" y="540.20" font-size="11.2" fill="#3c3c3c" stroke="#3c3c3c" stroke-width="0.3" textLength="15.40" lengthAdjust="spacingAndGlyphs"><tspan font-style="italic">∂θ</tspan><tspan font-size="7.4" dy="2.0" font-style="italic">j</tspan><tspan dy="-2.0" font-size="0.1"> </tspan></text>
<text x="492.90" y="531.40" font-size="13.4" fill="#3c3c3c" stroke="#3c3c3c" stroke-width="0.3"><tspan font-style="italic">f</tspan></text>
<text x="500.50" y="526.30" font-size="7.8" fill="#3c3c3c" stroke="#3c3c3c" stroke-width="0.3" textLength="19.80" lengthAdjust="spacingAndGlyphs">(<tspan font-style="italic">t</tspan>+1)</text>
<text x="521.50" y="531.40" font-size="12.4" fill="#3c3c3c" stroke="#3c3c3c" stroke-width="0.3" textLength="16.40" lengthAdjust="spacingAndGlyphs">(<tspan font-style="italic">x</tspan>)</text>
<text x="541.40" y="531.00" font-size="12.4" fill="#3c3c3c" stroke="#3c3c3c" stroke-width="0.3" textLength="8.30" lengthAdjust="spacingAndGlyphs">=</text>
<text x="553.90" y="531.40" font-size="13.4" fill="#3c3c3c" stroke="#3c3c3c" stroke-width="0.3"><tspan font-style="italic">f</tspan></text>
<text x="561.40" y="526.30" font-size="7.8" fill="#3c3c3c" stroke="#3c3c3c" stroke-width="0.3" textLength="8.80" lengthAdjust="spacingAndGlyphs">(<tspan font-style="italic">t</tspan>)</text>
<text x="571.10" y="531.40" font-size="12.4" fill="#3c3c3c" stroke="#3c3c3c" stroke-width="0.3" textLength="16.60" lengthAdjust="spacingAndGlyphs">(<tspan font-style="italic">x</tspan>)</text>
<text x="591.80" y="531.20" font-size="12.4" fill="#3c3c3c" stroke="#3c3c3c" stroke-width="0.3" textLength="7.70" lengthAdjust="spacingAndGlyphs">+</text>
<text x="604.00" y="531.40" font-size="12.4" fill="#3c3c3c" stroke="#3c3c3c" stroke-width="0.3" textLength="6.20" lengthAdjust="spacingAndGlyphs"><tspan font-style="italic">η</tspan></text>
<text x="610.60" y="532.40" font-size="15" fill="#3c3c3c" stroke="#3c3c3c" stroke-width="0.3">(</text>
<text x="614.80" y="531.40" font-size="12.4" fill="#3c3c3c" stroke="#3c3c3c" stroke-width="0.3" textLength="7.10" lengthAdjust="spacingAndGlyphs"><tspan font-style="italic">y</tspan></text>
<text x="625.80" y="531.20" font-size="12.4" fill="#3c3c3c" stroke="#3c3c3c" stroke-width="0.3" textLength="7.80" lengthAdjust="spacingAndGlyphs">−</text>
<text x="638.10" y="531.40" font-size="13.4" fill="#3c3c3c" stroke="#3c3c3c" stroke-width="0.3"><tspan font-style="italic">f</tspan></text>
<text x="645.30" y="526.30" font-size="7.8" fill="#3c3c3c" stroke="#3c3c3c" stroke-width="0.3" textLength="8.90" lengthAdjust="spacingAndGlyphs">(<tspan font-style="italic">t</tspan>)</text>
<text x="655.10" y="531.40" font-size="12.4" fill="#3c3c3c" stroke="#3c3c3c" stroke-width="0.3" textLength="15.60" lengthAdjust="spacingAndGlyphs">(<tspan font-style="italic">x</tspan>)</text>
<text x="670.60" y="532.40" font-size="15" fill="#3c3c3c" stroke="#3c3c3c" stroke-width="0.3">)</text>
</svg>
</div></div>
</body></html>
